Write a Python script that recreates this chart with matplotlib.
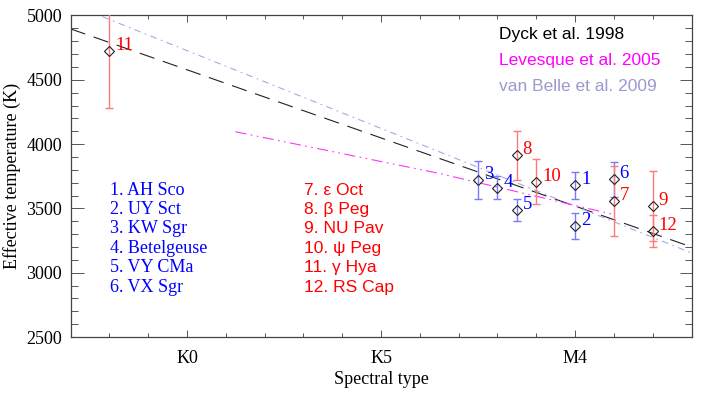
import matplotlib
matplotlib.use("Agg")
import matplotlib.pyplot as plt
from matplotlib.ticker import MultipleLocator, FixedLocator

# ---------------- data ----------------
star_ids = [1, 2, 3, 4, 5, 6, 7, 8, 9, 10, 11, 12]
spec_num = [10.0, 10.0, 7.5, 8.0, 8.5, 11.0, 11.0, 8.5, 12.0, 9.0, -2.0, 12.0]
teff = [3680, 3361, 3720, 3660, 3490, 3725, 3558, 3914, 3517, 3707, 4727, 3324]
teff_err = [105, 100, 150, 90, 85, 137, 270, 190, 272, 175, 445, 122]
group = ["b", "b", "b", "b", "b", "b", "r", "r", "r", "r", "r", "r"]

blue_names = ["1. AH Sco", "2. UY Sct", "3. KW Sgr", "4. Betelgeuse", "5. VY CMa", "6. VX Sgr"]
red_names = ["7. ε Oct", "8. β Peg", "9. NU Pav", "10. ψ Peg", "11. γ Hya", "12. RS Cap"]

dyck_x = [-3.0, 13.0]
dyck_T = [4896, 3200]
vb_x = [-3.0, 13.0]
vb_T = [5090, 3154]
lev_x = [1.25, 6.5, 11.0]
lev_T = [4096, 3772, 3452]

xtick_pos = [0, 5, 10]
xtick_lab = ["K0", "K5", "M4"]
ytick_pos = [2500, 3000, 3500, 4000, 4500, 5000]

# ---------------- figure ----------------
SERIF = ["Liberation Serif", "DejaVu Serif"]
SANS = ["Liberation Sans", "DejaVu Sans"]

fig = plt.figure(figsize=(7.06, 3.97), dpi=100)
ax = fig.add_axes([0.0999, 0.1511, 0.8796, 0.8099])

ax.set_xlim(-3, 13)
ax.set_ylim(2500, 5000)

# relation lines
ax.plot(dyck_x, dyck_T, color="#222222", lw=0.8, dashes=(14, 8), zorder=2)
ax.plot(vb_x, vb_T, color="#a8a8e4", lw=0.8, dashes=(6, 4, 1.5, 4), zorder=2)
ax.plot(lev_x, lev_T, color="#ff33ff", lw=0.8, dashes=(10, 4, 1.5, 4, 1.5, 4), zorder=2)

# error bars
col_bar = {"b": "#7a7aff", "r": "#ff7a7a"}
col_txt = {"b": "#0000ff", "r": "#ff0000"}
for g in ["b", "r"]:
    xs = [x for x, gg in zip(spec_num, group) if gg == g]
    ys = [y for y, gg in zip(teff, group) if gg == g]
    es = [e for e, gg in zip(teff_err, group) if gg == g]
    ax.errorbar(xs, ys, yerr=es, fmt="none", ecolor=col_bar[g], elinewidth=1.0,
                capsize=3.0, capthick=1.0, zorder=3)

ax.plot(spec_num, teff, linestyle="none", marker="D", ms=5.0, mfc="none",
        mec="#222222", mew=0.8, zorder=4)

for sid, x, y, g in zip(star_ids, spec_num, teff, group):
    ax.annotate(str(sid), (x, y), xytext=(4.2, 4.0), textcoords="offset points",
                ha="left", va="center", color=col_txt[g], fontsize=13.5,
                family=SERIF, zorder=5)

# name lists
row_y = [0.457, 0.3967, 0.3364, 0.2761, 0.2158, 0.1555]
for yy, name in zip(row_y, blue_names):
    ax.text(0.0636, yy, name, transform=ax.transAxes, color="#0000ff",
            fontsize=13, family=SERIF, ha="left", va="center")
for yy, name in zip(row_y, red_names):
    ax.text(0.3765, yy, name, transform=ax.transAxes, color="#ff0000",
            fontsize=12.5, family=SANS, ha="left", va="center")

# legend texts
leg = [("Dyck et al. 1998", "#000000"), ("Levesque et al. 2005", "#ff00ff"),
       ("van Belle et al. 2009", "#9a9ad0")]
leg_y = [0.9415, 0.8585, 0.7786]
for (t, c), yy in zip(leg, leg_y):
    ax.text(0.6905, yy, t, transform=ax.transAxes, color=c, fontsize=12.5,
            family=SANS, ha="left", va="center")

# axes styling
for s in ax.spines.values():
    s.set_color("#444444")
    s.set_linewidth(0.9)

ax.xaxis.set_major_locator(FixedLocator(xtick_pos))
ax.set_xticklabels(xtick_lab)
ax.xaxis.set_minor_locator(MultipleLocator(1))
ax.yaxis.set_major_locator(FixedLocator(ytick_pos))
ax.yaxis.set_minor_locator(MultipleLocator(100))

ax.tick_params(axis="both", which="both", direction="in", top=True, right=True,
               color="#555555", width=0.7)
ax.tick_params(axis="x", which="major", length=5, pad=9)
ax.tick_params(axis="x", which="minor", length=3)
ax.tick_params(axis="y", which="major", length=9, pad=6)
ax.tick_params(axis="y", which="minor", length=5)

for lab in ax.get_xticklabels() + ax.get_yticklabels():
    lab.set_family(SERIF)
    lab.set_fontsize(13)

ax.set_xlabel("Spectral type", family=SERIF, fontsize=13, labelpad=3)
ax.set_ylabel("Effective temperature (K)", family=SERIF, fontsize=13, labelpad=4)

fig.savefig("out.png", dpi=100)
